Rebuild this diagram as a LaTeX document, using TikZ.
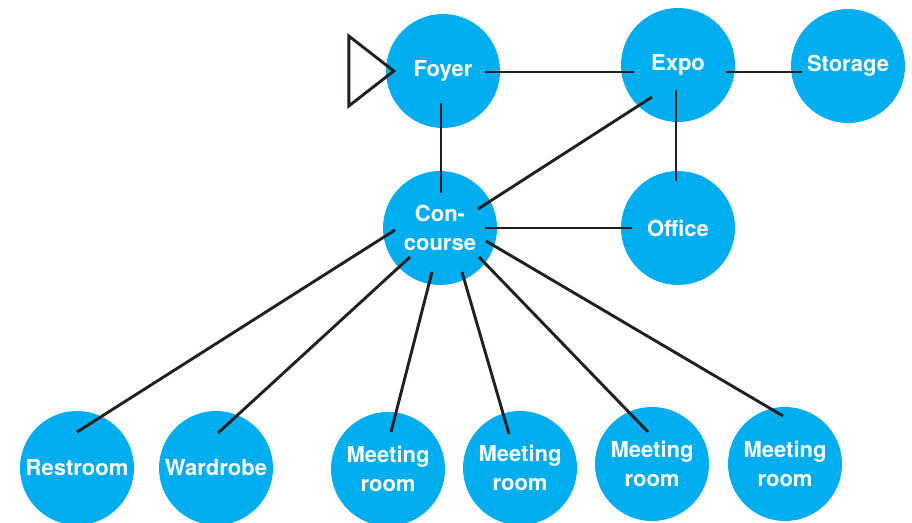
\documentclass[tikz,border=0pt]{standalone}
\usepackage{fontspec}
\setmainfont{TeX Gyre Heros}
\definecolor{roomblue}{HTML}{00AEEF}
\definecolor{linkdark}{HTML}{231F20}
\tikzset{%
    room/.style = {
        circle,
        fill=roomblue,
        minimum size=114pt,
        inner sep=0pt,
        text=white,
        align=center,
        font=\fontsize{22}{29}\selectfont\bfseries,
    },
    link/.style = {
        draw=linkdark,
        line width=2.9pt,
    },
    entrance/.style = {
        draw=linkdark,
        line width=2.9pt,
        miter limit=10,
    },
}

\begin{document}
\begin{tikzpicture}[x=1pt, y=-1pt]
    \useasboundingbox (0,0) rectangle (912,522);

    \node [room] (foyer) at (443,71) {Foyer};
    \node [room] (expo) at (678,65) {Expo};
    \node [room] (storage) at (848,66) {Storage};
    \node [room] (concourse) at (440,228) {Con-\\course};
    \node [room] (office) at (678,228) {Office};
    \node [room] (restroom) at (77,468) {Restroom};
    \node [room] (wardrobe) at (216,468) {Wardrobe};
    \node [room] (meetone) at (388,469) {Meeting\\room};
    \node [room] (meettwo) at (520,468) {Meeting\\room};
    \node [room] (meetthree) at (652,464) {Meeting\\room};
    \node [room] (meetfour) at (785,464) {Meeting\\room};

    \draw [entrance] ([xshift=8pt]foyer.west) -- ++(-45,-35) -- ++(0,70) -- cycle;

    \draw [link] ([shift={(42,1)}]foyer.center) -- ([shift={(-44,7)}]expo.center);
    \draw [link] ([shift={(48,7)}]expo.center) -- ([shift={(-46,6)}]storage.center);
    \draw [link] ([shift={(-2,25)}]expo.center) -- ([shift={(-2,-47)}]office.center);
    \draw [link] ([shift={(-2,32)}]foyer.center) -- ([shift={(1,-35)}]concourse.center);
    \draw [link] ([shift={(-26,32)}]expo.center) -- ([shift={(38,-19)}]concourse.center);
    \draw [link] ([shift={(45,0)}]concourse.center) -- ([shift={(-46,0)}]office.center);
    \draw [link] ([shift={(-45,2)}]concourse.center) -- ([shift={(0,-36)}]restroom.center);
    \draw [link] ([shift={(-30,29)}]concourse.center) -- ([shift={(2,-35)}]wardrobe.center);
    \draw [link] ([shift={(-8,44)}]concourse.center) -- ([shift={(3,-37)}]meetone.center);
    \draw [link] ([shift={(22,44)}]concourse.center) -- ([shift={(-11,-34)}]meettwo.center);
    \draw [link] ([shift={(39,29)}]concourse.center) -- ([shift={(-4,-32)}]meetthree.center);
    \draw [link] ([shift={(46,13)}]concourse.center) -- ([shift={(-2,-48)}]meetfour.center);

\end{tikzpicture}
\end{document}
